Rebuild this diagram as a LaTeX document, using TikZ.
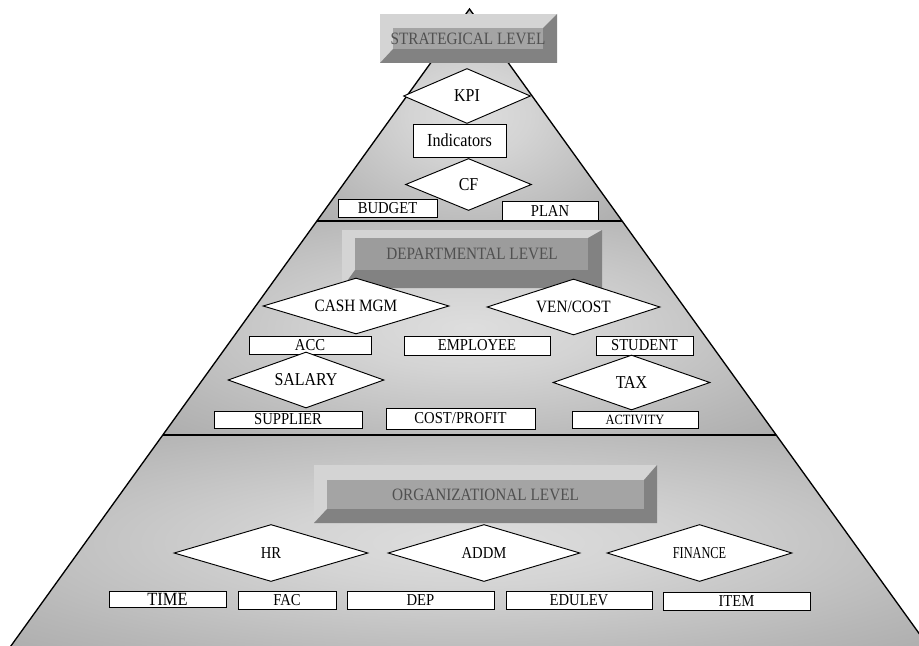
\documentclass[tikz,border=0pt]{standalone}
\usepackage{fontspec}
\setmainfont{Liberation Serif}
\newfontfamily\condserif[FakeStretch=0.88]{Liberation Serif}
\usetikzlibrary{shapes.geometric,shadows}
\definecolor{lvllight}{HTML}{D4D4D4}
\definecolor{lvlface}{HTML}{A4A4A4}
\definecolor{lvldark}{HTML}{828282}
\definecolor{lvltext}{HTML}{505050}
\pgfdeclareradialshading{pyr}{\pgfpoint{0bp}{0bp}}{rgb(0bp)=(0.87,0.87,0.87); rgb(10bp)=(0.83,0.83,0.83); rgb(28bp)=(0.72,0.72,0.72); rgb(45bp)=(0.63,0.63,0.63); rgb(50bp)=(0.61,0.61,0.61)}
\newcommand{\fsz}[1]{\condserif\fontsize{#1}{#1}\selectfont}
\begin{document}
\begin{tikzpicture}[x=0.75pt,y=-0.75pt,
  sz/.style 2 args={minimum width={#1*0.75pt}, minimum height={#2*0.75pt}},
  dia/.style={diamond, draw=black, line width=0.7pt, fill=white, inner sep=0pt, shape aspect=3,
    font=\fsz{12.5}},
  box/.style={rectangle, draw=black, line width=0.7pt, fill=white, inner sep=0pt,
    drop shadow={shadow xshift=0.7pt, shadow yshift=-0.7pt, opacity=0.45},
    font=\fsz{12.5}},
  lvltxt/.style={inner sep=0pt, text=lvltext, font=\fsz{13}},
  edge/.style={draw=black, line width=1pt}]
\useasboundingbox (0,0) rectangle (919,645);
\clip (0,0) rectangle (919,645);
% pyramid
\coordinate (apex) at (469.5,9);
\coordinate (l1) at (316.9,221);
\coordinate (r1) at (622.1,221);
\coordinate (l2) at (162.8,435);
\coordinate (r2) at (776.2,435);
\coordinate (l3) at (8,650);
\coordinate (r3) at (931,650);
\shade[shading=pyr] (apex) -- (r1) -- (l1) -- cycle;
\shade[shading=pyr] (l1) -- (r1) -- (r2) -- (l2) -- cycle;
\shade[shading=pyr] (l2) -- (r2) -- (r3) -- (l3) -- cycle;
\draw[edge] (l3) -- (apex) -- (r3);
\draw[edge] (l1) -- (r1);
\draw[edge] (l2) -- (r2);
% strategical level box
\fill[lvllight] (380,14) rectangle (557,63);
\fill[lvldark] (380,63) -- (557,63) -- (557,14) -- (543,28) -- (543,49) -- (393,49) -- cycle;
\fill[lvlface] (393,28) rectangle (543,49);
\node[lvltxt] (strat) at (468,38.5) {STRATEGICAL LEVEL};
% departmental level box
\fill[lvllight] (342,230) rectangle (602,288);
\fill[lvldark] (342,288) -- (602,288) -- (602,230) -- (588,238) -- (588,270) -- (355,270) -- cycle;
\fill[lvlface!95!black] (355,238) rectangle (588,270);
\node[lvltxt] (dept) at (472,253.5) {DEPARTMENTAL LEVEL};
% organizational level box
\fill[lvllight] (314,465) rectangle (657,523);
\fill[lvldark] (314,523) -- (657,523) -- (657,465) -- (644,480) -- (644,509) -- (327,509) -- cycle;
\fill[lvlface] (327,480) rectangle (644,509);
\node[lvltxt] (org) at (485.5,494.5) {ORGANIZATIONAL LEVEL};
% strategical contents
\node[dia, sz={127}{55}, font=\fsz{13.6}] (kpi) at (467,96) {KPI};
\node[box, sz={93}{33}, font=\fsz{13.8}] (ind) at (459.5,140.5) {Indicators};
\node[dia, sz={126}{52}, font=\fsz{13.6}] (cf) at (468.5,184.5) {CF};
\node[box, sz={99}{18}] (budget) at (387.5,208) {BUDGET};
\node[box, sz={96}{19}] (plan) at (550,210.5) {PLAN};
% departmental contents
\node[dia, sz={186}{56}, font=\fsz{13}] (cash) at (356,306) {CASH MGM};
\node[dia, sz={173}{56}, font=\fsz{13}] (ven) at (573.5,307) {VEN/COST};
\node[box, sz={122}{18}] (acc) at (310,345) {ACC};
\node[box, sz={146}{19}] (emp) at (477,345.5) {EMPLOYEE};
\node[box, sz={97}{19}] (stud) at (644.5,345.5) {STUDENT};
\node[dia, sz={156}{56}, font=\fsz{13.6}] (sal) at (306,380) {SALARY};
\node[dia, sz={157}{55}, font=\fsz{13.6}] (tax) at (631.5,382.5) {TAX};
\node[box, sz={148}{17}] (sup) at (288,419.5) {SUPPLIER};
\node[box, sz={149}{21}] (cp) at (460.5,418.5) {COST/PROFIT};
\node[box, sz={126}{17}, font=\fsz{10.6}] (act) at (635,419.5) {ACTIVITY};
% organizational contents
\node[dia, sz={194}{57}] (hr) at (271,553) {HR};
\node[dia, sz={192}{57}] (addm) at (484,553) {ADDM};
\node[dia, sz={185}{57}] (fin) at (699.5,553) {\scalebox{0.84}[1]{FINANCE}};
\node[box, sz={117}{16}, font=\fsz{14}] (time) at (167.5,599) {TIME};
\node[box, sz={98}{18}] (fac) at (287,600) {FAC};
\node[box, sz={147}{18}] (dep) at (420.5,600) {DEP};
\node[box, sz={146}{18}] (edu) at (579,600) {EDULEV};
\node[box, sz={147}{18}] (item) at (736.5,601) {ITEM};
\end{tikzpicture}
\end{document}
